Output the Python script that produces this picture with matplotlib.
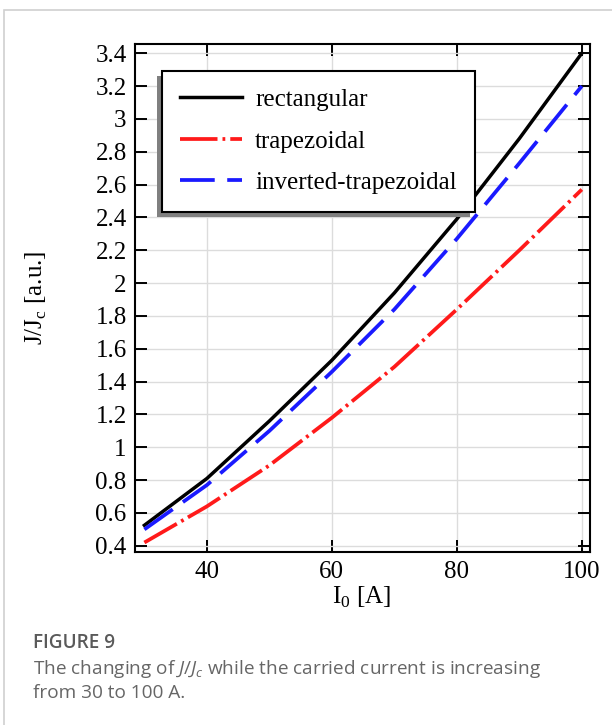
import numpy as np
import matplotlib
matplotlib.use("Agg")
import matplotlib.pyplot as plt
from matplotlib.patches import Rectangle
from matplotlib.ticker import FuncFormatter, MultipleLocator

# values
current = [30, 40, 50, 60, 70, 80, 90, 100]
rectangular = [0.525, 0.81, 1.16, 1.53, 1.94, 2.39, 2.88, 3.40]
trapezoidal = [0.42, 0.64, 0.89, 1.18, 1.49, 1.84, 2.20, 2.57]
inverted_trapezoidal = [0.50, 0.77, 1.10, 1.46, 1.84, 2.27, 2.73, 3.20]

x_ticks = [40, 60, 80, 100]
caption_title = "FIGURE 9"
caption_lines = ["The changing of $\\mathit{J}$/$\\mathit{J}_{\\mathit{c}}$ while the carried current is increasing",
                 "from 30 to 100 A."]

plt.rcParams['lines.scale_dashes'] = False
plt.rcParams['mathtext.fontset'] = 'custom'
plt.rcParams['mathtext.rm'] = 'Liberation Serif'
plt.rcParams['mathtext.it'] = 'Open Sans:italic'

serif = 'Liberation Serif'
fs = 18

fig = plt.figure(figsize=(6.12, 7.25), dpi=100)
ax = fig.add_axes([0.2206, 0.239, 0.7434, 0.7003])

ax.plot(current, rectangular, color='black', lw=2.5, label='rectangular', zorder=3)
ax.plot(current, trapezoidal, color='#ff1a1a', lw=2.7, dashes=(27, 3.6, 2, 3.6),
        label='trapezoidal', zorder=3)
ax.plot(current, inverted_trapezoidal, color='#1a1aff', lw=2.7, dashes=(25, 9),
        label='inverted-trapezoidal', zorder=3)

ax.set_xlim(28.5, 101.3)
ax.set_ylim(0.364, 3.456)
ax.set_xticks(x_ticks)
ax.yaxis.set_major_locator(MultipleLocator(0.2))
ax.yaxis.set_major_formatter(FuncFormatter(lambda v, p: '%g' % round(v, 1)))

ax.grid(True, color='#dcdcdc', lw=1.0, zorder=0)
ax.set_axisbelow(True)
ax.tick_params(direction='in', length=8.6, width=1.4, top=True, right=True,
               labelsize=fs, pad=6)
ax.tick_params(axis='x', pad=7)
for lab in ax.get_xticklabels() + ax.get_yticklabels():
    lab.set_fontfamily(serif)
for sp in ax.spines.values():
    sp.set_linewidth(1.5)

ax.set_xlabel('I$_\\mathrm{0}$ [A]', fontsize=fs, fontfamily=serif)
ax.set_ylabel('J/J$_\\mathrm{c}$ [a.u.]', fontsize=fs, fontfamily=serif)
ax.xaxis.set_label_coords(0.499, -0.066)
ax.yaxis.set_label_coords(-0.188, 0.5)

leg = ax.legend(loc='upper left', bbox_to_anchor=(0.0587, 0.9474), borderaxespad=0,
                prop={'family': serif, 'size': fs}, fancybox=False, framealpha=1,
                edgecolor='black', handlelength=2.5, handletextpad=0.52,
                labelspacing=0.76, borderpad=0.72)
leg.get_frame().set_linewidth(1.5)
leg.set_zorder(5)

# drop shadow of the legend, offset down-left like in the original
fig.canvas.draw()
bb = leg.get_window_extent()
inv = ax.transAxes.inverted()
(x0, y0) = inv.transform((bb.x0 - 5, bb.y0 - 5))
(x1, y1) = inv.transform((bb.x1 - 5, bb.y1 - 5))
ax.add_patch(Rectangle((x0, y0), x1 - x0, y1 - y0, transform=ax.transAxes,
                       facecolor='#808080', edgecolor='none', zorder=4.5, clip_on=False))

# light frame around the figure panel
fig.add_artist(Rectangle((4 / 612, -0.1), 1.2, 1.1 - 10 / 725, transform=fig.transFigure,
                         fill=False, edgecolor='#d0d0d0', lw=1.2))

fig.text(33 / 612, 1 - 648 / 725, caption_title, fontsize=13.7, color='#5a5a5a',
         fontfamily='Open Sans', fontweight='semibold', ha='left', va='baseline')
for i, line in enumerate(caption_lines):
    fig.text(33 / 612, 1 - (674 + 24.5 * i) / 725, line, fontsize=13.7, color='#666666',
             fontfamily='Open Sans', ha='left', va='baseline')

fig.savefig('out.png', dpi=100)
